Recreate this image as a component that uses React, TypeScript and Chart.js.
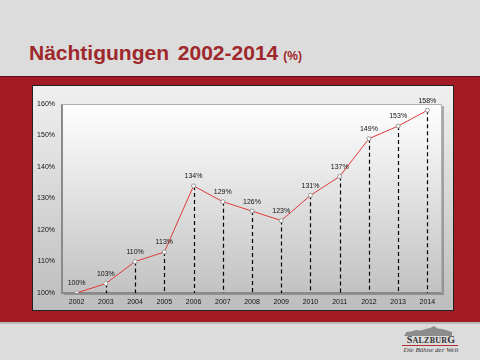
import React, { useEffect, useRef } from "react";
import { Chart, registerables } from "chart.js";

Chart.register(...registerables);

const years = ["2002","2003","2004","2005","2006","2007","2008","2009","2010","2011","2012","2013","2014"];
const values = [100, 103, 110, 113, 134, 129, 126, 123, 131, 137, 149, 153, 158];
const yMin = 100;
const yMax = 160;
const yStep = 10;

const bgPlugin = {
  id: "bgPlugin",
  beforeDraw(chart: any) {
    const { ctx, width, height, chartArea: a } = chart;
    ctx.save();
    const g = ctx.createLinearGradient(0, 0, 0, height);
    g.addColorStop(0, "#f0f0f0");
    g.addColorStop(1, "#bdbdbd");
    ctx.fillStyle = g;
    ctx.fillRect(0, 0, width, height);
    ctx.fillStyle = "rgba(90,90,90,0.45)";
    ctx.fillRect(a.left + 2, a.top + 2, a.right - a.left, a.bottom - a.top);
    const pg = ctx.createLinearGradient(0, a.top, 0, a.bottom);
    pg.addColorStop(0, "#ffffff");
    pg.addColorStop(1, "#c2c2c2");
    ctx.fillStyle = pg;
    ctx.fillRect(a.left, a.top, a.right - a.left, a.bottom - a.top);
    ctx.strokeStyle = "#8a8a8a";
    ctx.lineWidth = 2;
    ctx.beginPath();
    ctx.moveTo(a.left, a.top);
    ctx.lineTo(a.left, a.bottom);
    ctx.lineTo(a.right, a.bottom);
    ctx.stroke();
    ctx.strokeStyle = "#b0b0b0";
    ctx.lineWidth = 1;
    ctx.beginPath();
    ctx.moveTo(a.left, a.top + 0.5);
    ctx.lineTo(a.right - 0.5, a.top + 0.5);
    ctx.lineTo(a.right - 0.5, a.bottom);
    ctx.stroke();
    ctx.restore();
  },
  beforeDatasetsDraw(chart: any) {
    const { ctx, chartArea: a } = chart;
    const meta = chart.getDatasetMeta(0);
    ctx.save();
    ctx.strokeStyle = "#000";
    ctx.lineWidth = 1.2;
    ctx.setLineDash([4, 3]);
    meta.data.forEach((p: any) => {
      const x = Math.round(p.x) + 0.5;
      ctx.beginPath();
      ctx.moveTo(x, p.y);
      ctx.lineTo(x, a.bottom);
      ctx.stroke();
    });
    ctx.restore();
  },
  afterDatasetsDraw(chart: any) {
    const { ctx } = chart;
    const meta = chart.getDatasetMeta(0);
    ctx.save();
    ctx.fillStyle = "#111";
    ctx.font = "7px 'Liberation Sans', Arial, sans-serif";
    ctx.textAlign = "center";
    ctx.textBaseline = "bottom";
    meta.data.forEach((p: any, i: number) => {
      ctx.fillText(values[i] + "%", p.x, p.y - 6);
    });
    ctx.restore();
  },
};

function ChartPanel() {
  const ref = useRef<HTMLCanvasElement>(null);
  useEffect(() => {
    if (!ref.current) return;
    const chart = new Chart(ref.current, {
      type: "line",
      data: {
        labels: years,
        datasets: [
          {
            data: values,
            borderColor: "#e03a3a",
            borderWidth: 1,
            pointRadius: 2,
            pointBackgroundColor: "#ffffff",
            pointBorderColor: "#999999",
            pointBorderWidth: 1,
            tension: 0,
          },
        ],
      },
      options: {
        responsive: false,
        animation: false,
        devicePixelRatio: 1,
        layout: { padding: { left: 0, right: 11, top: 18, bottom: 0 } },
        plugins: { legend: { display: false }, tooltip: { enabled: false }, title: { display: false } },
        scales: {
          x: {
            offset: true,
            grid: { display: false, drawTicks: false },
            border: { display: false },
            ticks: { color: "#111", font: { size: 7, family: "'Liberation Sans', Arial, sans-serif" }, padding: 5, maxRotation: 0, autoSkip: false },
            afterFit(scale: any) { scale.height = 17; },
          },
          y: {
            min: yMin,
            max: yMax,
            grid: { display: false, drawTicks: false },
            border: { display: false },
            ticks: {
              stepSize: yStep,
              color: "#111",
              font: { size: 7, family: "'Liberation Sans', Arial, sans-serif" },
              padding: 7,
              callback: (v: any) => v + "%",
            },
            afterFit(scale: any) { scale.width = 29; },
          },
        },
      },
      plugins: [bgPlugin],
    });
    return () => chart.destroy();
  }, []);
  return <canvas ref={ref} width={420} height={224} style={{ display: "block", width: 420, height: 224 }} />;
}

export default function App() {
  return (
    <div style={{ position: "fixed", left: 0, top: 0, width: 480, height: 360, background: "#dcdcdc", overflow: "hidden", fontFamily: "'Liberation Sans', Arial, sans-serif" }}>
      <div style={{ position: "absolute", left: 29, top: 41, color: "#9e282b", fontWeight: "bold", fontSize: 21, whiteSpace: "nowrap", lineHeight: "24px" }}>
        <span style={{ wordSpacing: 3 }}>Nächtigungen 2002-2014</span>
        <span style={{ fontSize: 12, marginLeft: 5 }}>(%)</span>
      </div>
      <div style={{ position: "absolute", left: 0, top: 76, width: 480, height: 246, background: "#a31b23", borderTop: "1px solid #5a1014", boxSizing: "border-box" }} />
      <div style={{ position: "absolute", left: 0, top: 322, width: 480, height: 2, background: "#b8b8b8" }} />
      <div style={{ position: "absolute", left: 33, top: 86, width: 420, height: 224, outline: "1px solid #222" }}>
        <ChartPanel />
      </div>
      <div style={{ position: "absolute", left: 404, top: 326, width: 48, height: 10, background: "#8c8c8c", clipPath: "polygon(0% 100%, 5% 60%, 15% 55%, 25% 40%, 35% 45%, 45% 30%, 55% 20%, 62% 0%, 70% 25%, 80% 30%, 90% 45%, 100% 60%, 100% 100%)" }} />
      <div style={{ position: "absolute", left: 400, top: 334, width: 62, textAlign: "center", fontFamily: "'Liberation Serif', serif", fontWeight: "bold", fontSize: 10, color: "#333", letterSpacing: 0.2, lineHeight: "11px" }}>
        S<span style={{ fontSize: 8 }}>ALZBUR</span>G
      </div>
      <div style={{ position: "absolute", left: 402, top: 345, width: 56, height: 1, background: "#b03030" }} />
      <div style={{ position: "absolute", left: 398, top: 346, width: 66, textAlign: "center", fontFamily: "'Liberation Serif', serif", fontStyle: "italic", fontSize: 7, color: "#333", lineHeight: "9px", whiteSpace: "nowrap" }}>
        Die Bühne der Welt
      </div>
    </div>
  );
}
